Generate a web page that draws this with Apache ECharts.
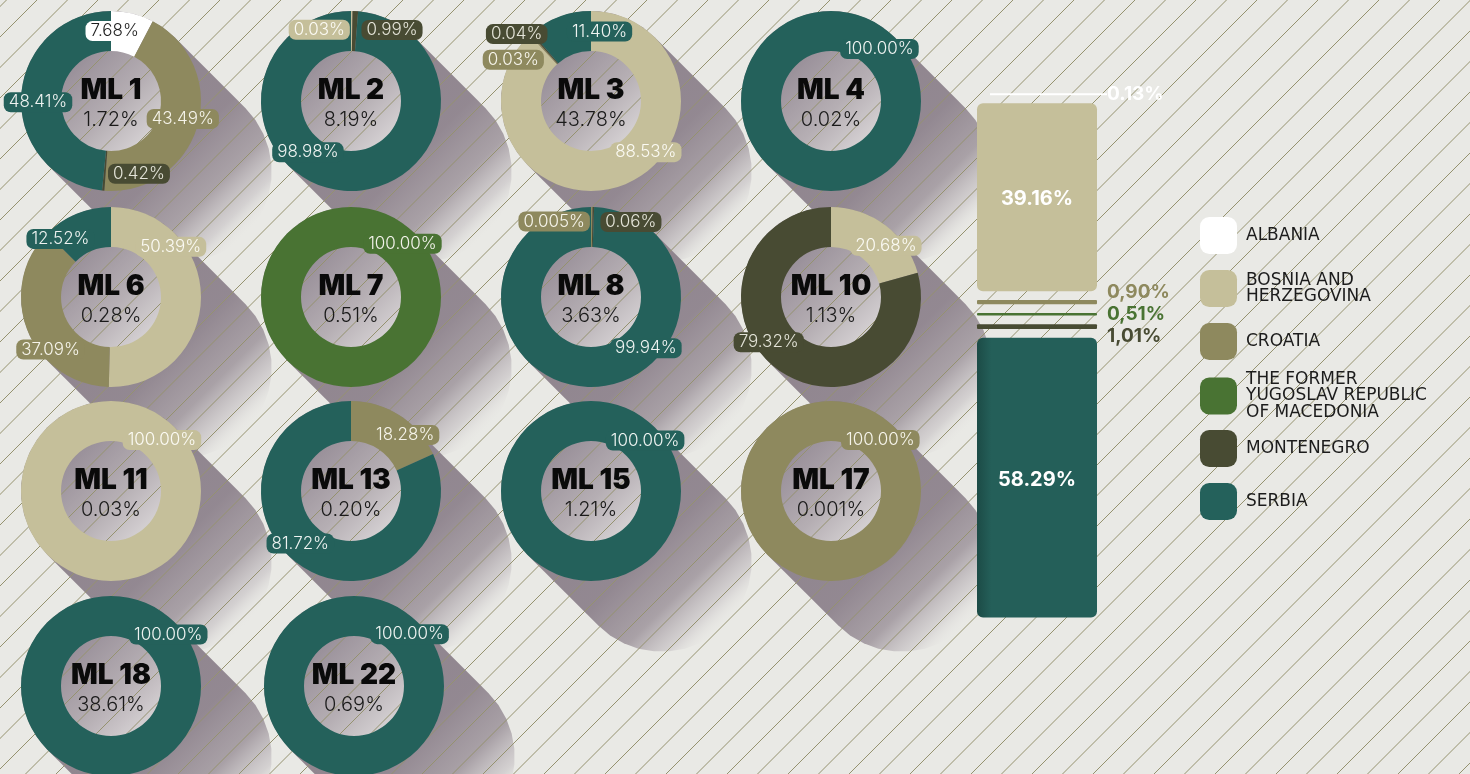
<!DOCTYPE html>
<html>
<head>
<meta charset="utf-8">
<title>ML shares by country</title>
<script src="https://cdn.jsdelivr.net/npm/echarts@6/dist/echarts.min.js"></script>
<style>
  html, body { margin: 0; padding: 0; background: #e9e9e5; }
  #chart { width: 1470px; height: 774px; }
</style>
</head>
<body>
<div id="chart"></div>
<script>
// --- data ---
const countries = ['Albania', 'Bosnia and Herzegovina', 'Croatia',
  'The former Yugoslav Republic of Macedonia', 'Montenegro', 'Serbia']
const legendLabels = ['ALBANIA', 'BOSNIA AND\nHERZEGOVINA', 'CROATIA',
  'THE FORMER\nYUGOSLAV REPUBLIC\nOF MACEDONIA', 'MONTENEGRO', 'SERBIA']

const mlNames = ['ML 1', 'ML 2', 'ML 3', 'ML 4', 'ML 6', 'ML 7', 'ML 8',
  'ML 10', 'ML 11', 'ML 13', 'ML 15', 'ML 17', 'ML 18', 'ML 22']
const mlShares = ['1.72%', '8.19%', '43.78%', '0.02%', '0.28%', '0.51%', '3.63%',
  '1.13%', '0.03%', '0.20%', '1.21%', '0.001%', '38.61%', '0.69%']

// share of each country inside every ML (null = not present)
const albania    = [7.68, null, null, null, null, null, null, null, null, null, null, null, null, null]
const bosnia     = [null, 0.03, 88.53, null, 50.39, null, null, 20.68, 100, null, null, null, null, null]
const croatia    = [43.49, null, 0.03, null, 37.09, null, 0.005, null, null, 18.28, null, 100, null, null]
const macedonia  = [null, null, null, null, null, 100, null, null, null, null, null, null, null, null]
const montenegro = [0.42, 0.99, 0.04, null, null, null, 0.06, 79.32, null, null, null, null, null, null]
const serbia     = [48.41, 98.98, 11.40, 100, 12.52, null, 99.94, null, null, 81.72, 100, null, 100, 100]
const countryValues = [albania, bosnia, croatia, macedonia, montenegro, serbia]

// total split (stacked bar, top to bottom)
const barValues = [0.13, 39.16, 0.90, 0.51, 1.01, 58.29]
const barLabels = ['0.13%', '39.16%', '0,90%', '0,51%', '1,01%', '58.29%']

// --- layout & style ---
const colors = ['#ffffff', '#c5bf9a', '#8e895e', '#497333', '#484b33', '#24615b']
const labelTextColors = ['#1e1e1e', '#fbfaf3', '#f6f4ea', '#f2f2ea', '#e4e4d8', '#eef3f1']
const centers = [[111, 101], [351, 101], [591, 101], [831, 101],
  [111, 297], [351, 297], [591, 297], [831, 297],
  [111, 491], [351, 491], [591, 491], [831, 491],
  [111, 686], [354, 686]]
// label spot per slice: [angle clockwise from top, distance from centre]
const labelSpots = [
  [[3, 70], [104, 74], [159, 78], [269, 73]],
  [[336, 78], [30, 82], [220, 67]],
  [[133, 75], [298, 88], [312, 100], [7, 70]],
  [[43, 71]],
  [[50, 78], [229, 80], [319, 77]],
  [[44, 74]],
  [[334, 84], [28, 85], [133, 75]],
  [[47, 75], [234, 77]],
  [[45, 72]],
  [[44, 78], [224, 73]],
  [[47, 74]],
  [[44, 71]],
  [[48, 77]],
  [[47, 76]]
]
const R_OUT = 90, R_IN = 50
const barGap = 8.7
const barLabelShift = [0, 0, -10, 0, 9.5, 0]
// legend is split in three blocks so the three-line entry keeps the even pitch
const legendBlocks = [{ from: 0, to: 3, top: 217 }, { from: 3, to: 4, top: 371 }, { from: 4, to: 6, top: 430 }]
const W = 1470, H = 774

function fmtPct(v) {
  return (v < 0.01 ? v.toFixed(3) : v.toFixed(2)) + '%'
}

const chart = echarts.init(document.getElementById('chart'))

// decorations: shadows, centre discs, hatching, centre texts
const graphics = []
const k = Math.SQRT1_2
centers.forEach(([cx, cy]) => {
  const L = 100
  const ex = cx + L * k, ey = cy + L * k
  const pts = []
  for (let a = -45; a >= -225; a -= 10) {
    pts.push([cx + R_OUT * Math.cos(a * Math.PI / 180), cy + R_OUT * Math.sin(a * Math.PI / 180)])
  }
  for (let a = 135; a >= -45; a -= 10) {
    pts.push([ex + R_OUT * Math.cos(a * Math.PI / 180), ey + R_OUT * Math.sin(a * Math.PI / 180)])
  }
  graphics.push({
    type: 'polygon', z: 1, silent: true,
    shape: { points: pts },
    style: {
      fill: new echarts.graphic.LinearGradient(cx - R_OUT * k, cy - R_OUT * k, ex + R_OUT * k, ey + R_OUT * k, [
        { offset: 0, color: 'rgba(135,124,134,0.95)' },
        { offset: 0.62, color: 'rgba(142,131,141,0.95)' },
        { offset: 0.8, color: 'rgba(160,151,158,0.88)' },
        { offset: 0.92, color: 'rgba(198,193,196,0.6)' },
        { offset: 1, color: 'rgba(233,233,229,0)' }
      ], true)
    }
  })
})
centers.forEach(([cx, cy]) => {
  graphics.push({
    type: 'circle', z: 2, silent: true,
    shape: { cx: cx, cy: cy, r: R_IN + 1 },
    style: {
      fill: new echarts.graphic.LinearGradient(0, 0, 1, 1, [
        { offset: 0, color: '#8f8590' },
        { offset: 0.55, color: '#b5aeb3' },
        { offset: 1, color: '#e3e0e1' }
      ])
    }
  })
})
for (let c = 6.5; c < W + H; c += 30.5) {
  graphics.push({
    type: 'line', z: 3, silent: true,
    shape: { x1: c, y1: 0, x2: c - H, y2: H },
    style: { stroke: '#95926f', lineWidth: 1 }
  })
}
centers.forEach(([cx, cy], i) => {
  graphics.push({
    type: 'text', z: 20, silent: true,
    style: { x: cx, y: cy - 10, text: mlNames[i], align: 'center', verticalAlign: 'middle',
      font: '900 28px Inter', fill: '#0a0a0a' }
  })
  graphics.push({
    type: 'text', z: 20, silent: true,
    style: { x: cx, y: cy + 19, text: mlShares[i], align: 'center', verticalAlign: 'middle',
      font: '300 20px Inter', fill: '#1a1a1a' }
  })
})

// donuts
const pieSeries = centers.map(([cx, cy], m) => {
  const data = []
  countryValues.forEach((vals, c) => {
    if (vals[m] != null) {
      data.push({
        name: countries[c],
        value: vals[m],
        itemStyle: { color: colors[c] },
        label: { backgroundColor: colors[c], color: labelTextColors[c] }
      })
    }
  })
  return {
    type: 'pie',
    z: 5,
    silent: true,
    animation: false,
    center: [cx, cy],
    radius: [R_IN, R_OUT],
    startAngle: 90,
    minAngle: 1,
    data: data,
    label: {
      show: true,
      position: 'inside',
      formatter: p => fmtPct(p.value),
      fontFamily: 'Inter',
      fontWeight: 300,
      fontSize: 17,
      padding: [2, 5, 1, 5],
      borderRadius: 7
    },
    labelLine: { show: false },
    labelLayout: p => {
      const spot = labelSpots[m][p.dataIndex]
      const a = spot[0] * Math.PI / 180
      return {
        x: cx + spot[1] * Math.sin(a),
        y: cy - spot[1] * Math.cos(a),
        align: 'center',
        verticalAlign: 'middle'
      }
    }
  }
})

// stacked total bar
let acc = 0
const barData = barValues.map(v => {
  const item = [0, acc, acc + v]
  acc += v
  return item
})

function renderBar(params, api) {
  const i = params.dataIndex
  const top = api.coord([0, api.value(1)])
  const bottom = api.coord([0, api.value(2)])
  const w = api.size([1, 0])[0]
  const x0 = top[0] - w / 2
  const y0 = top[1] + i * barGap
  const h = bottom[1] - top[1]
  const children = []
  if (h < 1.5) {
    const ly = y0 + h / 2
    children.push({
      type: 'line',
      shape: { x1: x0 + 13, y1: ly, x2: x0 + w + 10, y2: ly },
      style: { stroke: colors[i], lineWidth: 2 }
    })
    children.push({
      type: 'text',
      style: { x: x0 + w + 10, y: ly + barLabelShift[i], text: barLabels[i], align: 'left',
        verticalAlign: 'middle', font: '700 19px Inter', fill: '#ffffff' }
    })
  } else if (h < 8) {
    children.push({
      type: 'rect',
      shape: { x: x0, y: y0, width: w, height: h, r: 1 },
      style: { fill: colors[i] }
    })
    children.push({
      type: 'text',
      style: { x: x0 + w + 10, y: y0 + h / 2 + barLabelShift[i], text: barLabels[i], align: 'left',
        verticalAlign: 'middle', font: '700 19px Inter', fill: colors[i] }
    })
  } else {
    const fill = i === 5
      ? new echarts.graphic.LinearGradient(0, 0, 1, 0, [
          { offset: 0, color: '#1c4b46' },
          { offset: 0.12, color: '#245f59' },
          { offset: 1, color: '#245f59' }
        ])
      : colors[i]
    children.push({
      type: 'rect',
      shape: { x: x0, y: y0, width: w, height: h, r: 6 },
      style: { fill: fill }
    })
    children.push({
      type: 'text',
      style: { x: x0 + w / 2, y: y0 + h / 2 + 2, text: barLabels[i], align: 'center',
        verticalAlign: 'middle', font: '700 20px Inter', fill: '#ffffff' }
    })
  }
  return { type: 'group', children: children }
}

const legends = legendBlocks.map(b => ({
  orient: 'vertical',
  left: 1200,
  top: b.top,
  padding: 0,
  itemWidth: 37,
  itemHeight: 37,
  itemGap: 16,
  icon: 'roundRect',
  selectedMode: false,
  z: 6,
  data: countries.slice(b.from, b.to),
  formatter: n => legendLabels[countries.indexOf(n)],
  textStyle: {
    fontFamily: 'DejaVu Sans',
    fontSize: 17,
    lineHeight: 16.5,
    color: '#1c1c1c',
    padding: [0, 0, 0, 4]
  }
}))

const option = {
  backgroundColor: '#e9e9e5',
  animation: false,
  graphic: { elements: graphics },
  legend: legends,
  grid: { left: 977, top: 94, width: 120, height: 480 },
  xAxis: { type: 'category', data: ['Total'], show: false },
  yAxis: { type: 'value', min: 0, max: 100, inverse: true, show: false },
  series: pieSeries.concat([{
    type: 'custom',
    z: 5,
    silent: true,
    renderItem: renderBar,
    encode: { x: 0, y: [1, 2] },
    data: barData
  }])
}

chart.setOption(option)
window.addEventListener('resize', () => chart.resize())
</script>
</body>
</html>
